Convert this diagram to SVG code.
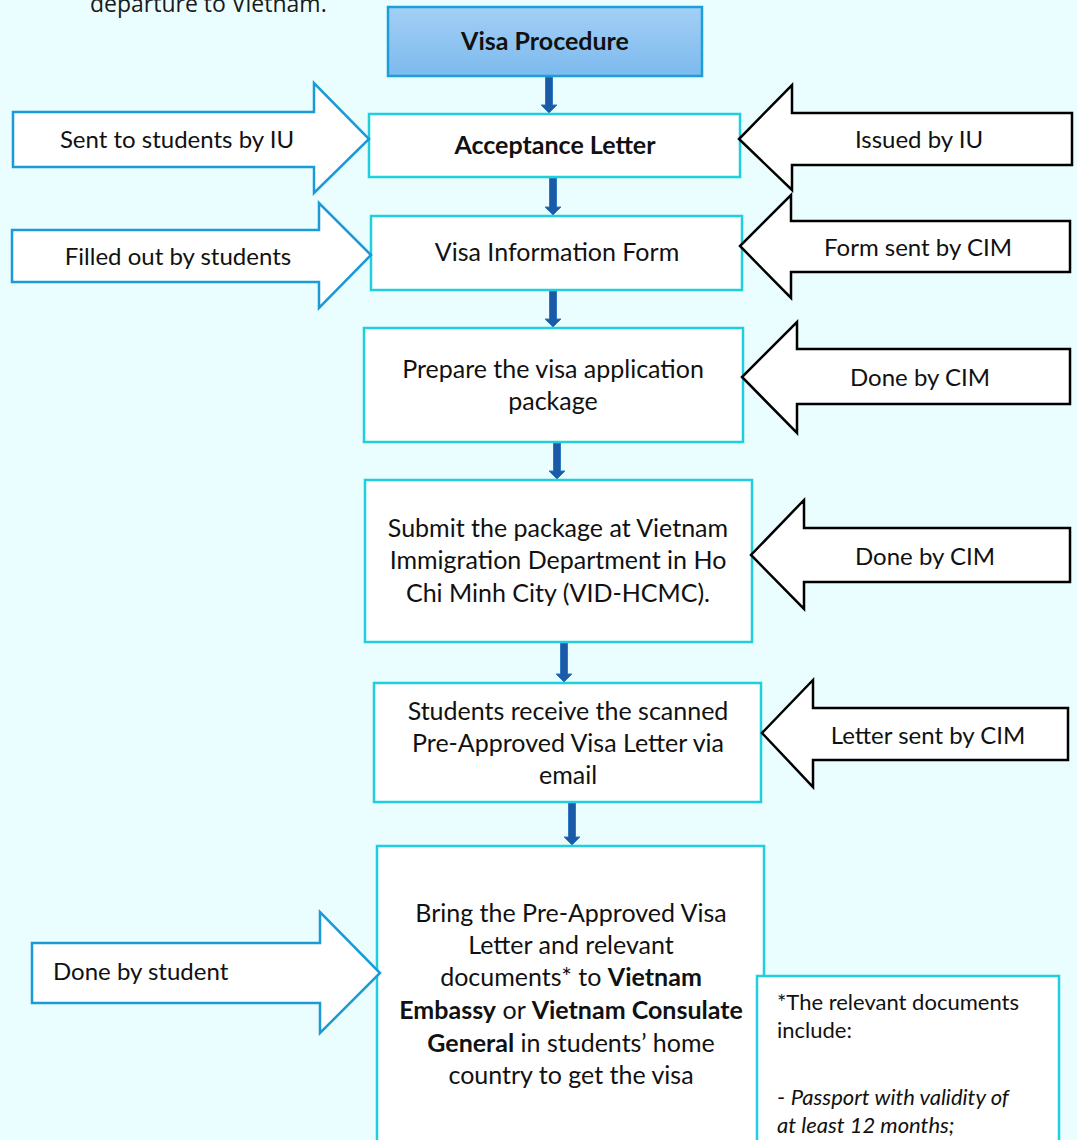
<svg xmlns="http://www.w3.org/2000/svg" width="1077" height="1140" viewBox="0 0 1077 1140">
<defs>
<linearGradient id="hdr" x1="0" y1="0" x2="0" y2="1">
<stop offset="0" stop-color="#A3CFF5"/>
<stop offset="1" stop-color="#7DBAEE"/>
</linearGradient>
<style>
.bg{fill:#EAFDFF}
.box{fill:#FFFFFF;stroke:#1FCFDD;stroke-width:2.5}
.hdr{fill:url(#hdr);stroke:#1A9FD9;stroke-width:2.5}
.la{fill:#FFFFFF;stroke:#1A9AD6;stroke-width:2.5;stroke-linejoin:miter}
.ra{fill:#FFFFFF;stroke:#000000;stroke-width:2.5;stroke-linejoin:miter}
.t{font-family:Lato,"Liberation Sans",sans-serif;font-size:25px;fill:#111111}
.a{font-family:Lato,"Liberation Sans",sans-serif;font-size:24px;fill:#111111}
.c{text-anchor:middle}
.b{font-weight:bold}
.n{font-family:Lato,"Liberation Sans",sans-serif;font-size:22px;fill:#111111}
.con{fill:#1B5AA6;stroke:#2F78C4;stroke-width:1}
</style>
</defs>
<rect class="bg" x="0" y="0" width="1077" height="1140"/>
<text x="90" y="12" style="font-family:'Open Sans','Liberation Sans',sans-serif;font-size:23px;fill:#1A1A1A">departure to Vietnam.</text>

<g id="connectors">
<path class="con" d="M545.5,77 h7 v28 h4.5 l-8,8 l-8,-8 h4.5 z"/>
<path class="con" d="M549.5,178 h7 v29 h4.5 l-8,8 l-8,-8 h4.5 z"/>
<path class="con" d="M549.5,291 h7 v28 h4.5 l-8,8 l-8,-8 h4.5 z"/>
<path class="con" d="M553.5,443 h7 v28 h4.5 l-8,8 l-8,-8 h4.5 z"/>
<path class="con" d="M560.5,643 h7 v31 h4.5 l-8,8 l-8,-8 h4.5 z"/>
<path class="con" d="M568.5,803 h7 v34 h4.5 l-8,8 l-8,-8 h4.5 z"/>
</g>

<g id="visa-procedure">
<rect class="hdr" x="388" y="7" width="314" height="69"/>
<text class="t c b" x="545" y="50">Visa Procedure</text>
</g>

<g id="acceptance-letter">
<rect class="box" x="369" y="114" width="371" height="63"/>
<text class="t c b" x="555" y="154">Acceptance Letter</text>
</g>

<g id="visa-information-form">
<rect class="box" x="371" y="216" width="371" height="74"/>
<text class="t c" x="557" y="261">Visa Information Form</text>
</g>

<g id="prepare-package">
<rect class="box" x="364" y="328" width="379" height="114"/>
<text class="t c" x="553" y="378">Prepare the visa application</text>
<text class="t c" x="553" y="410">package</text>
</g>

<g id="submit-package">
<rect class="box" x="365" y="480" width="387" height="162"/>
<text class="t c" x="558" y="537">Submit the package at Vietnam</text>
<text class="t c" x="558" y="569">Immigration Department in Ho</text>
<text class="t c" x="558" y="602">Chi Minh City (VID-HCMC).</text>
</g>

<g id="receive-letter">
<rect class="box" x="374" y="683" width="387" height="119"/>
<text class="t c" x="568" y="720">Students receive the scanned</text>
<text class="t c" x="568" y="752">Pre-Approved Visa Letter via</text>
<text class="t c" x="568" y="784">email</text>
</g>

<g id="bring-letter">
<rect class="box" x="377" y="846" width="387" height="310"/>
<text class="t c" x="571" y="922">Bring the Pre-Approved Visa</text>
<text class="t c" x="571" y="954">Letter and relevant</text>
<text class="t c" x="571" y="986">documents* to <tspan class="b">Vietnam</tspan></text>
<text class="t c" x="571" y="1019"><tspan class="b">Embassy</tspan> or <tspan class="b">Vietnam Consulate</tspan></text>
<text class="t c" x="571" y="1052"><tspan class="b">General</tspan> in students’ home</text>
<text class="t c" x="571" y="1084">country to get the visa</text>
</g>

<g id="documents-note">
<rect class="box" x="757" y="976" width="302" height="180"/>
<text class="n" x="777" y="1010">*The relevant documents</text>
<text class="n" x="777" y="1038">include:</text>
<text class="n" x="777" y="1105">- <tspan font-style="italic">Passport with validity of</tspan></text>
<text class="n" x="777" y="1133" font-style="italic">at least 12 months;</text>
</g>

<g id="sent-by-iu">
<path class="la" d="M13,112 H314 V83 L369,139 L314,193 V167 H13 Z"/>
<text class="a c" x="177" y="148">Sent to students by IU</text>
</g>

<g id="filled-by-students">
<path class="la" d="M12,230 H319 V203 L371,255 L319,308 V282 H12 Z"/>
<text class="a c" x="178" y="265">Filled out by students</text>
</g>

<g id="done-by-student">
<path class="la" d="M32,943 H320 V912 L380,973 L320,1033 V1003 H32 Z"/>
<text class="a" x="53" y="980">Done by student</text>
</g>

<g id="issued-by-iu">
<path class="ra" d="M1072,113 H792 V85 L739,139 L792,190 V165 H1072 Z"/>
<text class="a c" x="919" y="148">Issued by IU</text>
</g>

<g id="form-sent-by-cim">
<path class="ra" d="M1070,221 H791 V195 L740,246 L791,298 V272 H1070 Z"/>
<text class="a c" x="918" y="256">Form sent by CIM</text>
</g>

<g id="done-by-cim-1">
<path class="ra" d="M1070,349 H797 V322 L742,377 L797,433 V404 H1070 Z"/>
<text class="a c" x="920" y="386">Done by CIM</text>
</g>

<g id="done-by-cim-2">
<path class="ra" d="M1070,528 H804 V500 L751,555 L804,609 V582 H1070 Z"/>
<text class="a c" x="925" y="565">Done by CIM</text>
</g>

<g id="letter-sent-by-cim">
<path class="ra" d="M1068,708 H813 V680 L762,733 L813,787 V760 H1068 Z"/>
<text class="a c" x="928" y="744">Letter sent by CIM</text>
</g>
</svg>
